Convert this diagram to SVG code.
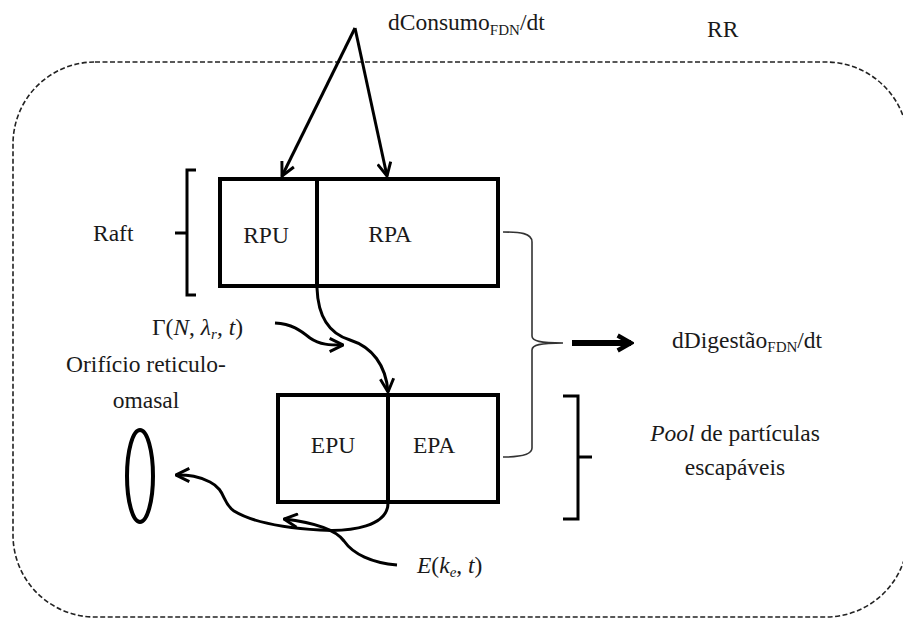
<svg xmlns="http://www.w3.org/2000/svg" width="903" height="619" viewBox="0 0 903 619">
  <defs>
    <style>
      text { font-family: "Liberation Serif", "Times New Roman", serif; font-size: 23.5px; fill: #1a1a1a; }
      .it { font-style: italic; }
      .sub { font-size: 15px; }
      .box { fill: none; stroke: #000; stroke-width: 4; }
      .flow { fill: none; stroke: #000; stroke-width: 3; }
      .bracket { fill: none; stroke: #000; stroke-width: 3; }
      .brace { fill: none; stroke: #333; stroke-width: 1.6; }
    </style>
    <marker id="head" viewBox="0 0 12 12" refX="11" refY="6" markerWidth="16" markerHeight="16" markerUnits="userSpaceOnUse" orient="auto">
      <path d="M1,1 L11,6 L1,11" fill="none" stroke="#000" stroke-width="2.2"/>
    </marker>
    <marker id="headBig" viewBox="0 0 12 12" refX="10" refY="6" markerWidth="20" markerHeight="20" markerUnits="userSpaceOnUse" orient="auto">
      <path d="M2,1.5 L10,6 L2,10.5" fill="none" stroke="#000" stroke-width="2.6"/>
    </marker>
  </defs>

  <!-- RR: rumen-reticulum boundary -->
  <g id="rr-boundary">
    <rect x="13" y="62" width="895" height="555" rx="82" ry="82" fill="none" stroke="#222" stroke-width="1.6" stroke-dasharray="5 2.5"/>
    <text x="707" y="37">RR</text>
  </g>

  <!-- Raft compartment -->
  <g id="raft">
    <rect class="box" x="220" y="179" width="278" height="107"/>
    <line class="box" x1="317" y1="179" x2="317" y2="286"/>
    <text x="266" y="243" text-anchor="middle">RPU</text>
    <text x="390" y="242" text-anchor="middle">RPA</text>
  </g>

  <!-- Escapable particle pool -->
  <g id="escapable">
    <rect class="box" x="278" y="395" width="220" height="107"/>
    <line class="box" x1="388" y1="395" x2="388" y2="502"/>
    <text x="333" y="453" text-anchor="middle">EPU</text>
    <text x="434" y="453" text-anchor="middle">EPA</text>
  </g>

  <!-- Reticulo-omasal orifice -->
  <g id="orifice">
    <ellipse cx="140" cy="476" rx="13" ry="46" fill="none" stroke="#000" stroke-width="4"/>
    <text x="146" y="372" text-anchor="middle">Orifício reticulo-</text>
    <text x="146" y="408" text-anchor="middle">omasal</text>
  </g>

  <!-- Raft bracket and label -->
  <g id="raft-label">
    <path class="bracket" d="M196,170 L187,170 L187,295 L196,295 M187,233 L175,233"/>
    <text x="93" y="241">Raft</text>
  </g>

  <!-- Pool bracket and label -->
  <g id="pool-label">
    <path class="bracket" d="M563,396 L578,396 L578,519 L563,519 M578,457 L592,457"/>
    <text x="735" y="441" text-anchor="middle"><tspan class="it">Pool</tspan> de partículas</text>
    <text x="735" y="475" text-anchor="middle">escapáveis</text>
  </g>

  <!-- Digestion output -->
  <g id="digestion">
    <path class="brace" d="M503,232 C520,232 532,233 532,242 L532,336 C532,341 540,343 563,343 C540,343 532,345 532,350 L532,448 C532,455 520,457 503,457"/>
    <text x="672" y="348">dDigestão<tspan class="sub" dy="4">FDN</tspan><tspan dy="-4">/dt</tspan></text>
  </g>

  <!-- Intake label -->
  <g id="intake">
    <text x="388" y="30">dConsumo<tspan class="sub" dy="5">FDN</tspan><tspan dy="-5">/dt</tspan></text>
  </g>

  <!-- Rate labels -->
  <g id="rate-labels">
    <text x="152" y="335">Γ(<tspan class="it">N</tspan>, <tspan class="it">λ</tspan><tspan class="it sub" dy="4">r</tspan><tspan dy="-4">, </tspan><tspan class="it">t</tspan>)</text>
    <text x="417" y="573"><tspan class="it">E</tspan>(<tspan class="it">k</tspan><tspan class="it sub" dy="4">e</tspan><tspan dy="-4">, </tspan><tspan class="it">t</tspan>)</text>
  </g>

  <!-- Flows -->
  <g id="connectors">
    <line class="flow" x1="355" y1="28" x2="282" y2="176" marker-end="url(#head)"/>
    <line class="flow" x1="355" y1="28" x2="387" y2="176" marker-end="url(#head)"/>
    <path class="flow" d="M317,288 C318,318 330,334 350,340 C372,347 386,365 388,392" marker-end="url(#head)"/>
    <path class="flow" d="M275,323 C292,324 300,330 310,338 C320,345 330,345 343,345" marker-end="url(#head)"/>
    <path class="flow" d="M388,503 C388,526 352,532 320,530 C286,528 252,522 234,511 C222,503 226,490 210,482 C198,476 190,475 176,475" marker-end="url(#head)"/>
    <path class="flow" d="M397,565 C372,563 353,554 344,541 C336,530 318,523 284,519" marker-end="url(#head)"/>
    <line x1="572" y1="343" x2="631" y2="343" stroke="#000" stroke-width="6" marker-end="url(#headBig)"/>
  </g>
</svg>
